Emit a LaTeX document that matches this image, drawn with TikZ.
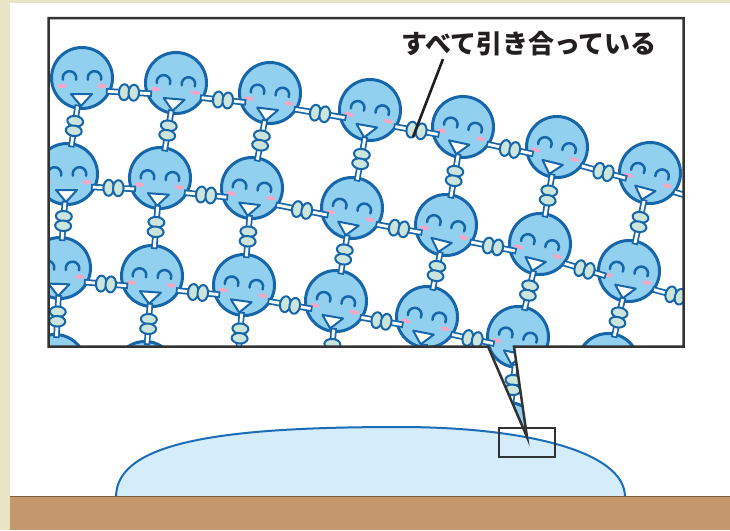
\documentclass[tikz,border=0pt]{standalone}
\usepackage{fontspec}
\newfontfamily\jpfont{Noto Sans CJK JP}
\usetikzlibrary{calc,shapes.geometric}

\definecolor{frameline}{HTML}{333333}
\definecolor{molblue}{HTML}{1766AA}
\definecolor{molfill}{HTML}{92D0F0}
\definecolor{cheek}{HTML}{F3A7C7}
\definecolor{beadfill}{HTML}{CBE5DD}
\definecolor{waterfill}{HTML}{D5ECFA}
\definecolor{waterline}{HTML}{1C6DB8}
\definecolor{soil}{HTML}{C4986C}
\definecolor{soilline}{HTML}{7F5A38}
\definecolor{paper}{HTML}{E8E4C6}
\definecolor{ink}{HTML}{231F20}

\tikzset{
  face/.style={circle, minimum size=61pt, inner sep=0pt, draw=molblue,
    fill=molfill, line width=3pt},
  eye/.style={draw=molblue, line width=2.5pt, line cap=round},
  mouth/.style={draw=molblue, fill=white, line width=2pt, line join=round},
  barout/.style={draw=molblue, line width=6.4pt},
  barin/.style={draw=white, line width=2.9pt, shorten <=1.8pt, shorten >=1.8pt},
  bead/.style={ellipse, minimum width=10.5pt, minimum height=16pt, inner sep=0pt,
    draw=molblue, fill=beadfill, line width=2pt},
  frame/.style={draw=frameline, line width=2.5pt, line join=miter},
  features/.pic={
    \fill[cheek] (-20,8) ellipse [x radius=4.8, y radius=2.2];
    \fill[cheek] (20,8) ellipse [x radius=4.8, y radius=2.2];
    \draw[eye] (-12.5,0) ++(165:6.8) arc[start angle=165, end angle=375, radius=6.8];
    \draw[eye] (12.5,0) ++(165:6.8) arc[start angle=165, end angle=375, radius=6.8];
    \draw[mouth] (-11,16) -- (10,16) -- (-1,28) -- cycle;
  }
}

% bond between two molecules: white bar with two beads in the middle
% #1,#2 molecule names, #3 downward offset of the bond, #4 distance kept from each centre
\newcommand\bondlink[4]{%
  \coordinate (la) at ($(#1)+(0,#3)$);
  \coordinate (lb) at ($(#2)+(0,#3)$);
  \coordinate (ls) at ($(la)!#4pt!(lb)$);
  \coordinate (le) at ($(lb)!#4pt!(la)$);
  \draw[barout] (ls) -- (le);
  \draw[barin] (ls) -- (le);
  \coordinate (b1) at ($(la)!0.5!(lb)!4.8pt!(la)$);
  \coordinate (b2) at ($(la)!0.5!(lb)!4.8pt!(lb)$);
  \path (b1) -- (b2) node[bead, sloped, pos=0] {} node[bead, sloped, pos=1] {};
}

\begin{document}
\begin{tikzpicture}[x=1pt, y=-1pt]
  \useasboundingbox (0,0) rectangle (730,530);
  \fill[white] (0,0) rectangle (730,530);
  \fill[paper] (0,0) rectangle (10,530);
  \fill[paper] (0,0) rectangle (730,3);

  % water drop on the ground
  \draw[waterline, fill=waterfill, line width=2pt]
    (116,497) .. controls (116,440) and (230,427) .. (400,427)
              .. controls (520,427) and (625,450) .. (625,497);
  \fill[soil] (10,496.5) rectangle (730,530);
  \draw[soilline, line width=1.5pt] (10,496.5) -- (730,496.5);

  % magnified window with its pointer wedge
  \coordinate (fTL) at (48.5,18);
  \coordinate (fTR) at (683.5,18);
  \coordinate (fBR) at (683.5,346.5);
  \coordinate (wR)  at (514,346.5);
  \coordinate (apex) at (527,437);
  \coordinate (wL)  at (488,346.5);
  \coordinate (fBL) at (48.5,346.5);

  \begin{scope}
    \clip (fTL) -- (fTR) -- (fBR) -- (wR) -- (apex) -- (wL) -- (fBL) -- cycle;
    \foreach \nm/\px/\py/\tilt in {
      r1c1/82/78/0, r1c2/176/83/5, r1c3/270/93/7, r1c4/370/110/10,
      r1c5/463/127/12, r1c6/557/147/14, r1c7/650/173/15, r1c8/743/200/15,
      r2c1/67/174/0, r2c2/160/178/4, r2c3/252/188/7, r2c4/352/208/11,
      r2c5/446/225/14, r2c6/540/244/14, r2c7/629/271/11, r2c8/722/296/12,
      r3c1/60/268/2, r3c2/152/276/4, r3c3/244/285/8, r3c4/336/301/10,
      r3c5/427/317/11, r3c6/518/337/12, r3c7/608/364/12,
      r4c1/55/365/3, r4c2/145/372/5, r4c3/236/382/8, r4c4/328/397/10,
      r4c5/419/413/11, r4c6/508/433/12, r4c7/598/460/12}{
      \node[face] (\nm) at (\px,\py) {};
      \pic[rotate=-\tilt] at (\nm) {features};
    }
    % bonds along the rows
    \foreach \a/\b in {r1c1/r1c2, r1c2/r1c3, r1c3/r1c4, r1c4/r1c5, r1c5/r1c6,
      r1c6/r1c7, r1c7/r1c8,
      r2c1/r2c2, r2c2/r2c3, r2c3/r2c4, r2c4/r2c5, r2c5/r2c6, r2c6/r2c7, r2c7/r2c8,
      r3c1/r3c2, r3c2/r3c3, r3c3/r3c4, r3c4/r3c5, r3c5/r3c6, r3c6/r3c7}{
      \bondlink{\a}{\b}{12}{24}
    }
    % bonds down the columns
    \foreach \c in {1,...,7}{
      \bondlink{r1c\c}{r2c\c}{0}{27}
      \bondlink{r2c\c}{r3c\c}{0}{27}
      \bondlink{r3c\c}{r4c\c}{0}{27}
    }
  \end{scope}
  \draw[frame] (fTL) -- (fTR) -- (fBR) -- (wR) -- (apex) -- (wL) -- (fBL) -- cycle;

  % marked spot on the drop
  \node[draw=frameline, line width=2pt, minimum width=56pt, minimum height=29pt,
    inner sep=0pt] (spot) at (527,442.5) {};

  % caption and its leader
  \node[font=\jpfont\bfseries\fontsize{26}{26}\selectfont, text=ink, inner sep=0pt]
    (caption) at (529,44) {すべて引き合っている};
  \coordinate (leadtop) at (443,59);
  \coordinate (leadtip) at (413,137);
  \draw[ink, line width=2.6pt] (leadtop) -- (leadtip);
\end{tikzpicture}
\end{document}
